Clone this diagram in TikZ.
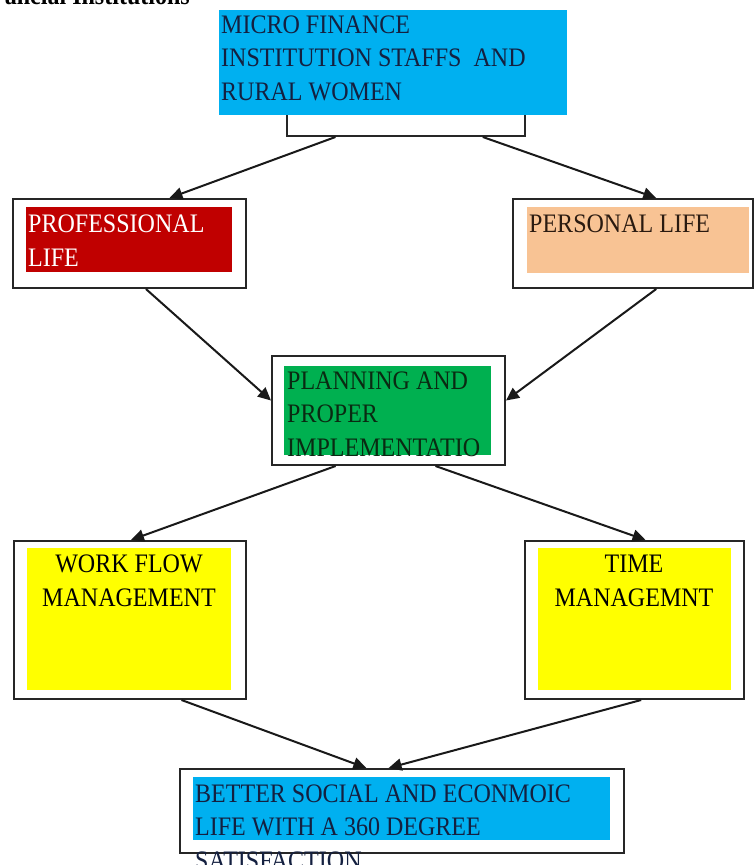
\documentclass[tikz,border=0pt]{standalone}
\usepackage{fontspec}
\setmainfont{Liberation Serif}
\newfontfamily\tallfont[FakeStretch=0.9]{Liberation Serif}
\usetikzlibrary{arrows.meta,calc}
\definecolor{cblue}{HTML}{00B0F0}
\definecolor{cred}{HTML}{C00000}
\definecolor{cpeach}{HTML}{F8C394}
\definecolor{cgreen}{HTML}{00B050}
\definecolor{cyellow}{HTML}{FFFF00}
\definecolor{navy}{HTML}{142040}
\definecolor{dgreen}{HTML}{0A2A12}
\definecolor{dbrown}{HTML}{2A1A10}
\tikzset{
  outer/.style={draw=black!85, line width=2pt, fill=white, inner sep=0pt, anchor=north west},
  filler/.style={inner sep=0pt, anchor=north west, draw=none},
  txt/.style={inner sep=0pt, font=\tallfont\fontsize{26.7}{33.5}\selectfont},
  conn/.style={line width=2pt, draw=black!90, -{Triangle[length=13pt,width=12pt]}}
}
\begin{document}
\begin{tikzpicture}[x=1pt,y=-1pt]
\useasboundingbox (0,0) rectangle (754,865);
\clip (0,0) rectangle (754,865);
\fill[white] (0,0) rectangle (754,865);
% header fragment
\node[txt, anchor=base east, font=\tallfont\bfseries\fontsize{26.7}{33.5}\selectfont] (hdr) at (190,4) {ancial Institutions};
% top box
\node[outer, minimum width=238pt, minimum height=40pt] (top) at (286,95) {};
\node[filler, fill=cblue, minimum width=348pt, minimum height=105pt] (topf) at (219,10) {};
\node[txt, anchor=base west, align=left, text=navy] (toptx) at (221,100) {MICRO FINANCE\\INSTITUTION STAFFS~ AND\\RURAL WOMEN};
% professional
\node[outer, minimum width=233pt, minimum height=89pt] (prof) at (12,198) {};
\node[filler, fill=cred, minimum width=206pt, minimum height=65pt] (proff) at (26,207) {};
\node[txt, anchor=base west, align=left, text=white] (proftx) at (28,266) {PROFESSIONAL\\LIFE};
% personal
\node[outer, minimum width=240pt, minimum height=89pt] (pers) at (512,198) {};
\node[filler, fill=cpeach, minimum width=222pt, minimum height=66pt] (persf) at (527,207) {};
\node[txt, anchor=base west, text=dbrown] (perstx) at (529,232) {PERSONAL LIFE};
% planning
\node[outer, minimum width=233pt, minimum height=109pt] (plan) at (271,355) {};
\node[filler, fill=cgreen, minimum width=207pt, minimum height=89pt] (planf) at (284,366) {};
\node[txt, anchor=base west, align=left, text=dgreen] (plantx) at (287,456) {PLANNING AND\\PROPER\\IMPLEMENTATIO};
% work flow
\node[outer, minimum width=232pt, minimum height=158pt] (work) at (13,540) {};
\node[filler, fill=cyellow, minimum width=204pt, minimum height=142pt] (workf) at (27,548) {};
\node[txt, anchor=base, align=center] (worktx) at (129,606) {WORK FLOW\\MANAGEMENT};
% time
\node[outer, minimum width=219pt, minimum height=158pt] (time) at (524,540) {};
\node[filler, fill=cyellow, minimum width=193pt, minimum height=142pt] (timef) at (538,548) {};
\node[txt, anchor=base, align=center] (timetx) at (634,606) {TIME\\MANAGEMNT};
% better
\node[outer, minimum width=444pt, minimum height=84pt] (better) at (179,768) {};
\node[filler, fill=cblue, minimum width=417pt, minimum height=63pt] (betterf) at (193,777) {};
\node[txt, anchor=base west, align=left, text=navy] (bettertx) at (195,869) {BETTER SOCIAL AND ECONMOIC\\LIFE WITH A 360 DEGREE\\SATISFACTION};
% connectors
\draw[conn] ($(top.south west)!0.206!(top.south east)$) -- ($(prof.north west)!0.67!(prof.north east)$);
\draw[conn] ($(top.south west)!0.82!(top.south east)$) -- ($(pers.north west)!0.596!(pers.north east)$);
\draw[conn] ($(prof.south west)!0.57!(prof.south east)$) -- ($(plan.north west)!0.41!(plan.south west)$);
\draw[conn] ($(pers.south west)!0.596!(pers.south east)$) -- ($(plan.north east)!0.41!(plan.south east)$);
\draw[conn] ($(plan.south west)!0.275!(plan.south east)$) -- ($(work.north west)!0.504!(work.north east)$);
\draw[conn] ($(plan.south west)!0.70!(plan.south east)$) -- ($(time.north west)!0.55!(time.north east)$);
\draw[conn] ($(work.south west)!0.72!(work.south east)$) -- ($(better.north west)!0.42!(better.north east)$);
\draw[conn] ($(time.south west)!0.53!(time.south east)$) -- ($(better.north west)!0.47!(better.north east)$);
\end{tikzpicture}
\end{document}
